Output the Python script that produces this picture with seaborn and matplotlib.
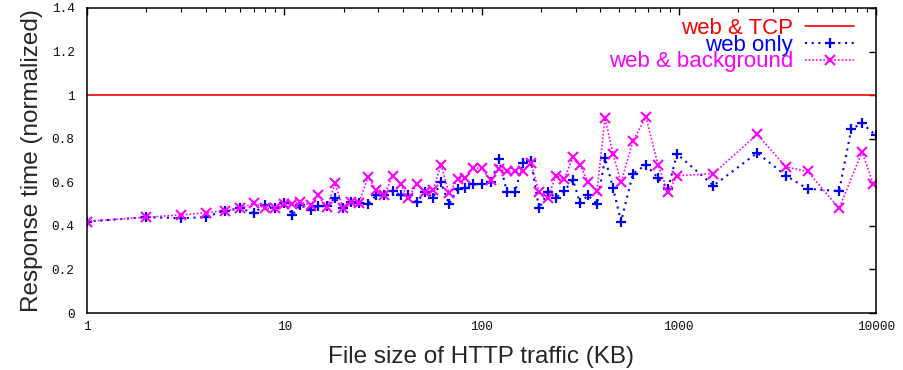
import numpy as np
import pandas as pd
import matplotlib
matplotlib.use("Agg")
import matplotlib.pyplot as plt
import seaborn as sns
from matplotlib.ticker import FixedLocator, LogLocator, NullFormatter

# ---- data ----
tcp_x = [1, 10000]
tcp_y = [1.0, 1.0]

web_x = [1, 2, 3, 4, 5, 6, 7, 8, 9, 10, 11, 12, 13.6, 14.8, 16.5, 18.1, 19.9, 21.8,
         23.9, 26.6, 29.2, 32, 35.6, 39, 42.4, 47, 51.7, 56.8, 62.3, 68.4, 76, 82.5,
         90.6, 100, 111.7, 122.7, 134.6, 147.9, 162.3, 178, 195.7, 217, 238.6, 262,
         291, 316, 347, 385, 423, 464, 510, 586, 682, 785, 882, 980, 1500, 2500,
         3500, 4500, 6500, 7500, 8500, 10000]
web_y = [0.42, 0.44, 0.435, 0.44, 0.47, 0.48, 0.46, 0.495, 0.48, 0.505, 0.45, 0.495,
         0.475, 0.49, 0.49, 0.53, 0.48, 0.51, 0.505, 0.50, 0.54, 0.54, 0.56, 0.54,
         0.54, 0.51, 0.555, 0.53, 0.60, 0.50, 0.57, 0.575, 0.59, 0.59, 0.60, 0.705,
         0.555, 0.555, 0.69, 0.70, 0.48, 0.555, 0.53, 0.56, 0.61, 0.505, 0.54, 0.50,
         0.71, 0.575, 0.42, 0.64, 0.68, 0.62, 0.57, 0.73, 0.585, 0.735, 0.63, 0.57,
         0.56, 0.845, 0.87, 0.815]

bg_x = [1, 2, 3, 4, 5, 6, 7, 8, 9, 10, 11, 12, 13.6, 14.8, 16.5, 18.1, 19.9, 21.8,
        23.9, 26.6, 29.2, 32, 35.6, 39, 42.4, 47, 51.7, 56.8, 62.3, 68.4, 76, 82.5,
        90.6, 100, 111.7, 122.7, 134.6, 147.9, 162.3, 178, 195.7, 217, 238.6, 262,
        291, 316, 347, 385, 423, 464, 510, 586, 682, 785, 882, 980, 1500, 2500,
        3500, 4500, 6500, 8500, 9700]
bg_y = [0.42, 0.44, 0.45, 0.46, 0.47, 0.48, 0.505, 0.48, 0.48, 0.50, 0.50, 0.51,
        0.495, 0.54, 0.485, 0.595, 0.48, 0.51, 0.505, 0.625, 0.565, 0.54, 0.63, 0.59,
        0.53, 0.59, 0.555, 0.565, 0.68, 0.55, 0.615, 0.62, 0.665, 0.665, 0.61, 0.66,
        0.65, 0.65, 0.65, 0.69, 0.555, 0.53, 0.63, 0.615, 0.715, 0.68, 0.60, 0.56,
        0.895, 0.73, 0.60, 0.79, 0.90, 0.68, 0.555, 0.63, 0.64, 0.82, 0.67, 0.65,
        0.48, 0.74, 0.59]

y_ticks = [0, 0.2, 0.4, 0.6, 0.8, 1.0, 1.2, 1.4]
y_tick_labels = ["0", "0.2", "0.4", "0.6", "0.8", "1", "1.2", "1.4"]
x_ticks = [1, 10, 100, 1000, 10000]
x_tick_labels = ["1", "10", "100", "1000", "10000"]

# ---- plot ----
sns.set_style("white")
plt.rcParams["font.family"] = ["Liberation Sans", "DejaVu Sans"]

fig = plt.figure(figsize=(9.04, 3.70), dpi=100)
ax = fig.add_axes([87 / 904, 1 - 313 / 370, (876 - 87) / 904, (313 - 8) / 370])

sns.lineplot(x=tcp_x, y=tcp_y, ax=ax, color="#ff0000", lw=1.2, label="web & TCP",
             sort=False)
sns.lineplot(x=web_x, y=web_y, ax=ax, color="#0000ff", lw=1.5, linestyle=(0, (1, 2.2)),
             marker="+", markersize=7, markeredgewidth=1.6, markeredgecolor="#0000ff",
             label="web only", sort=False)
sns.lineplot(x=bg_x, y=bg_y, ax=ax, color="#ff00ff", lw=1.2, linestyle=(0, (1, 1.2)),
             marker="x", markersize=6.5, markeredgewidth=1.5, markeredgecolor="#ff00ff",
             label="web & background", sort=False)

ax.set_xscale("log")
ax.set_xlim(1, 10000)
ax.set_ylim(0, 1.4)

ax.xaxis.set_major_locator(FixedLocator(x_ticks))
ax.set_xticklabels(x_tick_labels)
ax.xaxis.set_minor_locator(LogLocator(base=10, subs=np.arange(2, 10)))
ax.xaxis.set_minor_formatter(NullFormatter())
ax.set_yticks(y_ticks)
ax.set_yticklabels(y_tick_labels)

for lab in ax.get_xticklabels() + ax.get_yticklabels():
    lab.set_fontfamily(["Liberation Mono", "DejaVu Sans Mono"])
    lab.set_fontsize(9.2)
    lab.set_color("#111111")

ax.tick_params(axis="both", which="major", direction="in", length=5, width=1,
               top=True, right=True, color="black")
ax.tick_params(axis="both", which="minor", direction="in", length=2.6, width=0.8,
               top=True, right=True, color="black")
ax.tick_params(axis="y", which="major", pad=9)
ax.tick_params(axis="x", which="major", pad=6)

for sp in ax.spines.values():
    sp.set_visible(True)
    sp.set_color("black")
    sp.set_linewidth(1.1)

ax.set_xlabel("File size of HTTP traffic (KB)", fontsize=17.5, labelpad=9)
ax.set_ylabel("Response time (normalized)", fontsize=17.5, labelpad=6)
ax.grid(False)

leg = ax.legend(loc="upper right", bbox_to_anchor=(0.9835, 0.9966), frameon=False,
                markerfirst=False, labelcolor="linecolor", fontsize=16,
                handlelength=2.2, handletextpad=0.55, labelspacing=-0.19,
                borderaxespad=0.2, borderpad=0.2)

fig.savefig("out.png", dpi=100)
